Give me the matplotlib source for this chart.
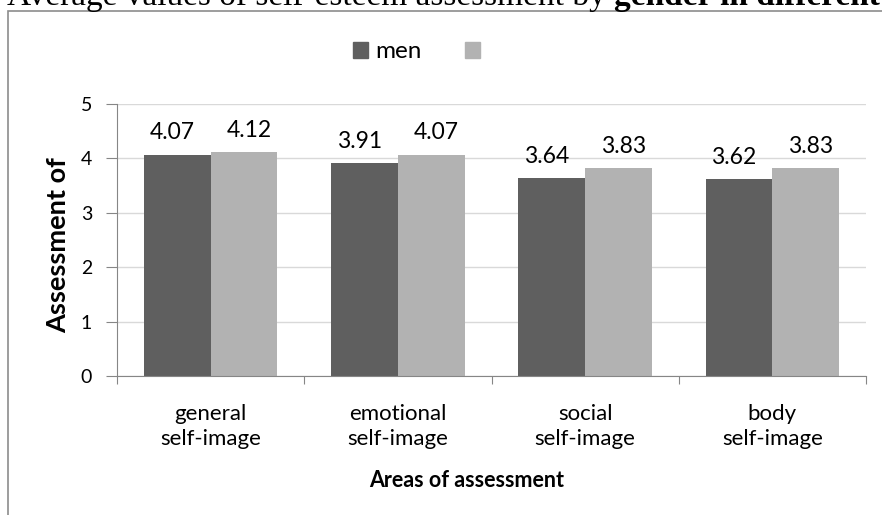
import matplotlib.pyplot as plt
from matplotlib.patches import Rectangle, Patch
import numpy as np

# Data.
categories = ["general\nself-image", "emotional\nself-image",
              "social\nself-image", "body\nself-image"]
men = [4.07, 3.91, 3.64, 3.62]
women = [4.12, 4.07, 3.83, 3.83]
series_labels = ["men", ""]
yticks = [0, 1, 2, 3, 4, 5]

dark = "#5f5f5f"
light = "#b2b2b2"
W, H = 882, 515

plt.rcParams["font.family"] = ["Lato", "DejaVu Sans"]

fig = plt.figure(figsize=(W / 100, H / 100), dpi=100)

# Outer chart frame (runs off the right and bottom edges).
fig.patches.append(Rectangle((8 / W, -0.1), 1.2, 1.1 - 11 / H,
                             transform=fig.transFigure, fill=False,
                             edgecolor="#8c8c8c", linewidth=1.2))

# Title, mostly cut off above the top edge as in the source.
title_y = 1 - 5 / H
t1 = fig.text(7 / W, title_y, "Average values of self-esteem assessment by ",
              family="Liberation Serif", fontsize=24, va="baseline")
fig.canvas.draw()
x1 = t1.get_window_extent(renderer=fig.canvas.get_renderer()).x1
fig.text(x1 / W, title_y, "gender in different spheres",
         family="Liberation Serif", fontsize=24, fontweight="bold",
         va="baseline")

ax = fig.add_axes([117 / W, 1 - 376 / H, (866 - 117) / W, (376 - 104) / H])

x = np.arange(len(categories))
bw = 0.357
b1 = ax.bar(x - bw / 2, men, bw, color=dark, zorder=2)
b2 = ax.bar(x + bw / 2, women, bw, color=light, zorder=2)

# Value labels; the source nudges them slightly apart.
for bars, vals, dx in ((b1, men, -3.6), (b2, women, 3.6)):
    for rect, v in zip(bars, vals):
        ax.annotate(f"{v:.2f}", (rect.get_x() + rect.get_width() / 2, v),
                    xytext=(dx, 8), textcoords="offset points",
                    ha="center", va="bottom", fontsize=16.5)

ax.set_xlim(-0.5, len(categories) - 0.5)
ax.set_ylim(0, 5)
ax.set_yticks(yticks)
ax.yaxis.grid(True, color="#d9d9d9", linewidth=1, zorder=0)
ax.set_axisbelow(True)

# Category labels sit between the boundary ticks.
ax.set_xticks(np.arange(len(categories) + 1) - 0.5)
ax.set_xticklabels([])
ax.set_xticks(x, minor=True)
ax.set_xticklabels(categories, minor=True, fontsize=16, linespacing=1.3)
ax.tick_params(axis="x", which="minor", length=0, pad=20)
ax.tick_params(axis="x", which="major", length=6, color="#868686")
ax.tick_params(axis="y", length=8, color="#868686", labelsize=14, pad=10)

for side in ("top", "right"):
    ax.spines[side].set_visible(False)
for side in ("left", "bottom"):
    ax.spines[side].set_color("#868686")

ax.set_xlabel("Areas of assessment", fontsize=15.5, fontweight="bold")
ax.xaxis.set_label_coords(0.467, -0.345)
ax.set_ylabel("Assessment of", fontsize=19.5, fontweight="bold")
ax.yaxis.set_label_coords(-0.062, 0.48)

handles = [Patch(color=dark), Patch(color=light)]
fig.legend(handles, series_labels, loc="center",
           bbox_to_anchor=(420 / W, 1 - 52 / H),
           ncol=2, frameon=False, fontsize=17.5, handlelength=0.62,
           handleheight=0.62, handletextpad=0.3, columnspacing=1.8)

fig.savefig("out.png", dpi=100)
